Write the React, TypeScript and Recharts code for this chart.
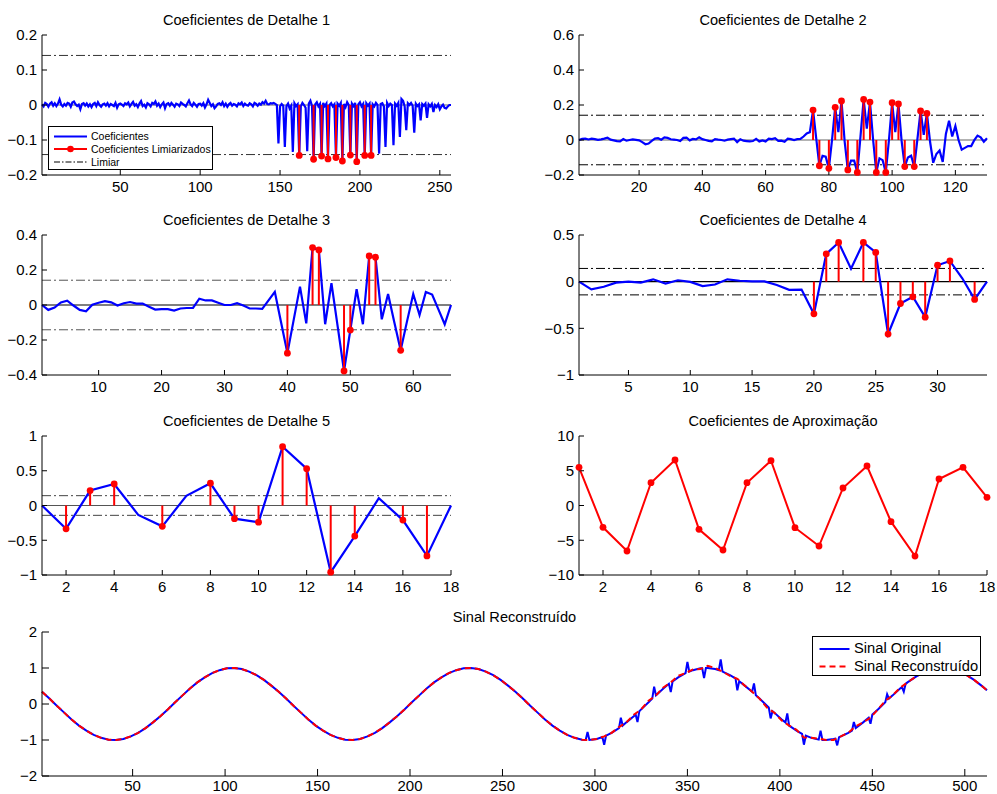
import React from "react";
import { ComposedChart, Line, XAxis, YAxis, ReferenceLine, Legend, ErrorBar } from "recharts";

const FONT = '"Liberation Sans", Arial, Helvetica, sans-serif';
const BLUE = "#0000ff";
const RED = "#ff0000";
const THRESHOLD = 0.1416;

// Detail level 1 (257 coefficients)
const detail1 = [
  0.002, -0.004, 0.006, 0.003, -0.005, 0.004, 0.008, -0.002, 0.005, -0.003,
  0.004, 0.016, 0.001, -0.004, 0.003, -0.002, 0.006, 0.004, -0.005, 0.007,
  0.01, 0.002, -0.003, 0.001, -0.012, 0.003, 0.005, -0.002, 0.004, -0.004,
  0.002, -0.006, 0.003, 0.006, -0.003, 0.008, 0, -0.005, 0.002, 0.004,
  -0.002, 0.005, -0.004, 0.003, 0, -0.003, 0.006, -0.008, 0.002, 0.004,
  0.001, -0.003, 0.005, 0.002, 0.007, -0.004, 0.003, 0.009, -0.002, 0.002,
  -0.006, 0.004, 0.011, -0.003, 0.001, -0.007, 0.005, 0.002, -0.004, 0.006,
  0.003, 0.01, -0.002, 0.004, -0.006, 0.002, 0.007, -0.009, 0.003, 0.005,
  -0.002, 0.006, 0.001, -0.005, 0.004, 0.002, -0.003, 0.007, 0.003, 0,
  -0.004, 0.005, 0.013, 0.002, -0.003, 0.006, 0.001, -0.005, 0.003, 0.004,
  -0.002, 0.005, -0.007, 0.002, 0.015, 0.006, -0.003, 0.002, -0.009, -0.004,
  0.003, 0.005, 0, 0.008, -0.003, 0.004, -0.005, 0.002, 0.006, -0.002,
  0.003, 0.001, -0.004, 0.005, 0.002, 0.007, -0.003, 0.004, 0, -0.002,
  0.005, 0.002, -0.004, 0.006, 0.003, -0.002, 0.004, 0.001, 0.008, 0.004,
  0.012, 0.003, 0.002, 0.005, 0.004, 0.006, 0.003, 0, -0.11, -0.004,
  0.003, -0.002, -0.12, -0.003, 0.004, -0.01, -0.002, -0.134, 0.005, -0.003,
  0.002, -0.144, -0.004, 0.006, 0, -0.008, -0.132, 0.004, 0.012, -0.003,
  -0.155, 0.002, 0.008, -0.004, 0.003, -0.146, 0.006, -0.003, 0.004, -0.154,
  0, 0.005, -0.004, 0.002, -0.15, 0.004, -0.002, 0.006, -0.16, 0.003,
  -0.006, 0.008, 0, -0.143, 0.004, -0.003, 0.006, -0.162, 0.002, 0.008,
  -0.004, 0.003, -0.144, 0.005, -0.002, 0.004, -0.144, 0.002, -0.004, 0.006,
  0, -0.139, 0.003, 0.005, -0.004, -0.12, 0.006, -0.003, 0.004, 0,
  -0.115, 0.004, -0.002, 0.006, -0.091, 0.017, 0.012, -0.004, -0.072, 0.005,
  0, 0.006, -0.002, -0.079, 0.004, -0.003, 0.002, -0.044, 0.003, -0.002,
  0.004, -0.037, 0.002, -0.004, 0.003, -0.02, 0, -0.006, 0.002, -0.012,
  -0.004, 0.001, -0.008, -0.01, -0.004, 0, 0,
];
const detail1Kept = [162, 171, 176, 180, 185, 189, 194, 198, 203, 207];

// Detail level 2 (130 coefficients)
const detail2 = [
  0, 0.006, 0.008, 0.003, 0.008, 0.005, 0.001, 0.004, 0.008, 0.013,
  0.002, -0.002, -0.006, -0.008, 0.005, -0.004, 0, 0.003, 0.001, -0.002,
  -0.012, -0.024, -0.02, -0.005, 0.008, 0.01, 0.002, 0.015, 0.012, 0.004,
  0.002, 0, -0.006, 0.012, 0.014, -0.002, 0.006, 0.004, 0.016, 0.005,
  0, -0.005, -0.008, 0.005, 0.002, 0, -0.004, 0.002, 0.005, 0.008,
  -0.012, 0.004, -0.004, -0.006, -0.008, -0.006, 0.006, -0.008, -0.002, -0.008,
  0.008, 0.005, 0.01, -0.005, -0.004, -0.01, 0.008, 0.005, 0, 0.005,
  0.006, 0.02, 0.038, 0.045, 0.171, 0.01, -0.147, -0.09, -0.095, -0.162,
  0, 0.187, 0.045, 0.223, -0.01, -0.171, -0.118, -0.118, -0.185, 0.02,
  0.232, 0.065, 0.217, 0, -0.185, -0.105, -0.115, -0.185, 0, 0.213,
  0.045, 0.206, -0.005, -0.152, -0.1, -0.09, -0.152, 0.005, 0.166, 0.03,
  0.152, -0.01, -0.13, -0.08, -0.06, -0.125, 0.035, 0.11, 0.02, 0.08,
  0, -0.055, -0.045, -0.035, -0.035, 0, 0.025, 0.015, -0.01, 0.01,
];
const detail2Kept = [75, 77, 80, 82, 84, 86, 89, 91, 93, 95, 98, 100, 102, 104, 107, 109, 111];

// Detail level 3 (66 coefficients)
const detail3 = [
  0, -0.028, -0.015, 0.015, 0.025, -0.003, -0.028, -0.036, 0.002, 0.013,
  0.022, 0.015, -0.003, 0.01, 0.017, 0.008, 0.008, -0.01, -0.026, -0.024,
  -0.024, -0.032, -0.02, -0.017, -0.017, 0.036, 0.026, 0.026, 0.013, 0,
  0, 0.01, -0.003, -0.02, -0.02, -0.022, 0.026, 0.075, -0.1, -0.275,
  -0.085, 0.105, -0.105, 0.328, 0.315, -0.11, 0.125, -0.125, -0.377, -0.143,
  0.09, -0.11, 0.28, 0.273, -0.082, 0.063, -0.1, -0.259, -0.095, 0.063,
  -0.057, 0.075, 0.06, -0.025, -0.11, 0,
];
const detail3Kept = [40, 44, 45, 49, 50, 53, 54, 58];

// Detail level 4 (34 coefficients)
const detail4 = [
  0, -0.083, -0.054, -0.01, 0, -0.01, 0.025, -0.02, 0.015, -0.003,
  -0.047, -0.03, 0.025, 0.01, 0.003, 0.003, -0.035, -0.087, -0.085, -0.345,
  0.298, 0.42, 0.138, 0.42, 0.313, -0.561, -0.234, -0.162, -0.38, 0.176,
  0.222, 0.036, -0.19, 0,
];
const detail4Kept = [20, 21, 22, 24, 25, 26, 27, 28, 29, 30, 31, 33];

// Detail level 5 and approximation (18 coefficients each)
const detail5 = [0, -0.335, 0.215, 0.31, -0.135, -0.3, 0.14, 0.32, -0.19, -0.24, 0.845, 0.53, -0.96, -0.44, 0.105, -0.21, -0.725, 0];
const detail5Kept = [2, 3, 4, 6, 8, 9, 10, 11, 12, 13, 14, 16, 17];
const approx5 = [5.5, -3.14, -6.55, 3.28, 6.55, -3.43, -6.4, 3.28, 6.45, -3.19, -5.83, 2.52, 5.68, -2.33, -7.27, 3.81, 5.5, 1.18];

// Signal, read every 4th sample (x = 1, 5, 9, ... 509, then 512)
const signalBase = [
  0.34, 0.15, -0.05, -0.24, -0.43, -0.6, -0.74, -0.86, -0.94, -0.99, -1, -0.97, -0.9, -0.8, -0.67, -0.51,
  -0.34, -0.15, 0.05, 0.24, 0.43, 0.6, 0.74, 0.86, 0.94, 0.99, 1, 0.97, 0.9, 0.8, 0.67, 0.51,
  0.34, 0.15, -0.05, -0.24, -0.43, -0.6, -0.74, -0.86, -0.94, -0.99, -1, -0.97, -0.9, -0.8, -0.67, -0.51,
  -0.34, -0.15, 0.05, 0.24, 0.43, 0.6, 0.74, 0.86, 0.94, 0.99, 1, 0.97, 0.9, 0.8, 0.67, 0.51,
  0.34, 0.15, -0.05, -0.24, -0.43, -0.6, -0.74, -0.86, -0.94, -0.99, -1, -0.97, -0.9, -0.8, -0.67, -0.51,
  -0.34, -0.15, 0.05, 0.24, 0.43, 0.6, 0.74, 0.86, 0.94, 0.99, 1, 0.97, 0.9, 0.8, 0.67, 0.51,
  0.34, 0.15, -0.05, -0.24, -0.43, -0.6, -0.74, -0.86, -0.94, -0.99, -1, -0.97, -0.9, -0.8, -0.67, -0.51,
  -0.34, -0.15, 0.05, 0.24, 0.43, 0.6, 0.74, 0.86, 0.94, 0.99, 1, 0.97, 0.9, 0.8, 0.67, 0.51,
  0.38,
];

// noise spikes of the original signal: [sample, value]
const originalSpikes: [number, number][] = [
  [295, -1], [296, -0.78], [297, -1],
  [304, -0.92], [305, -1.13], [306, -0.88],
  [313, -0.67], [314, -0.38], [315, -0.6],
  [322, -0.29], [323, -0.5], [324, -0.2],
  [331, 0.15], [332, 0.48], [333, 0.24],
  [340, 0.56], [341, 0.33], [342, 0.63],
  [349, 0.86], [350, 1.17], [351, 0.9],
  [358, 0.99], [359, 0.72], [360, 1],
  [367, 0.94], [368, 1.24], [369, 0.9],
  [376, 0.71], [377, 0.38], [378, 0.63],
  [385, 0.34], [386, 0.57], [387, 0.24],
  [394, -0.1], [395, -0.4], [396, -0.2],
  [403, -0.51], [404, -0.26], [405, -0.6],
  [412, -0.83], [413, -1.13], [414, -0.88],
  [421, -0.99], [422, -0.74], [423, -1],
  [430, -0.96], [431, -1.15], [432, -0.92],
  [439, -0.74], [440, -0.5], [441, -0.67],
  [448, -0.38], [449, -0.55], [450, -0.29],
  [457, 0.05], [458, 0.27], [459, 0.15],
  [466, 0.47], [467, 0.34], [468, 0.56],
  [475, 0.8], [476, 0.98], [477, 0.86],
];

const reconstructed = [
  0.34, 0.15, -0.05, -0.24, -0.43, -0.6, -0.74, -0.86, -0.94, -0.99, -1, -0.97, -0.9, -0.8, -0.67, -0.51,
  -0.34, -0.15, 0.05, 0.24, 0.43, 0.6, 0.74, 0.86, 0.94, 0.99, 1, 0.97, 0.9, 0.8, 0.67, 0.51,
  0.34, 0.15, -0.05, -0.24, -0.43, -0.6, -0.74, -0.86, -0.94, -0.99, -1, -0.97, -0.9, -0.8, -0.67, -0.51,
  -0.34, -0.15, 0.05, 0.24, 0.43, 0.6, 0.74, 0.86, 0.94, 0.99, 1, 0.97, 0.9, 0.8, 0.67, 0.51,
  0.34, 0.15, -0.05, -0.24, -0.43, -0.6, -0.74, -0.86, -0.94, -0.99, -1, -0.97, -0.9, -0.8, -0.64, -0.51,
  -0.3, -0.15, 0.09, 0.24, 0.46, 0.6, 0.78, 0.86, 0.96, 0.97, 1.06, 1, 0.9, 0.78, 0.7, 0.51,
  0.34, 0.15, -0.1, -0.24, -0.46, -0.6, -0.72, -0.93, -0.94, -0.96, -1, -1, -0.9, -0.8, -0.62, -0.51,
  -0.38, -0.15, 0.09, 0.24, 0.45, 0.6, 0.74, 0.86, 0.94, 0.99, 1, 0.97, 0.9, 0.8, 0.67, 0.51,
  0.38,
];

const legend1Labels = ["Coeficientes", "Coeficientes Limiarizados", "Limiar"];
const legend7Labels = ["Sinal Original", "Sinal Reconstruído"];

type Spec = {
  title: string;
  left: number;
  top: number;
  width: number;
  height: number;
  xMax: number;
  xTicks: number[];
  yDomain: [number, number];
  yTicks: number[];
  tick: number;
  gap: number;
  right: number;
};

const specs: Spec[] = [
  { title: "Coeficientes de Detalhe 1", left: 42, top: 35, width: 409, height: 140, xMax: 257, xTicks: [50, 100, 150, 200, 250], yDomain: [-0.2, 0.2], yTicks: [-0.2, -0.1, 0, 0.1, 0.2], tick: 5, gap: 6, right: 16 },
  { title: "Coeficientes de Detalhe 2", left: 579, top: 35, width: 408, height: 140, xMax: 130, xTicks: [20, 40, 60, 80, 100, 120], yDomain: [-0.2, 0.6], yTicks: [-0.2, 0, 0.2, 0.4, 0.6], tick: 5, gap: 6, right: 9 },
  { title: "Coeficientes de Detalhe 3", left: 42, top: 235, width: 409, height: 140, xMax: 66, xTicks: [10, 20, 30, 40, 50, 60], yDomain: [-0.4, 0.4], yTicks: [-0.4, -0.2, 0, 0.2, 0.4], tick: 5, gap: 6, right: 16 },
  { title: "Coeficientes de Detalhe 4", left: 579, top: 235, width: 408, height: 140, xMax: 34, xTicks: [5, 10, 15, 20, 25, 30], yDomain: [-1, 0.5], yTicks: [-1, -0.5, 0, 0.5], tick: 5, gap: 6, right: 9 },
  { title: "Coeficientes de Detalhe 5", left: 42, top: 436, width: 409, height: 139, xMax: 18, xTicks: [2, 4, 6, 8, 10, 12, 14, 16, 18], yDomain: [-1, 1], yTicks: [-1, -0.5, 0, 0.5, 1], tick: 5, gap: 6, right: 16 },
  { title: "Coeficientes de Aproximação", left: 579, top: 436, width: 408, height: 139, xMax: 18, xTicks: [2, 4, 6, 8, 10, 12, 14, 16, 18], yDomain: [-10, 10], yTicks: [-10, -5, 0, 5, 10], tick: 5, gap: 6, right: 9 },
  { title: "Sinal Reconstruído", left: 42, top: 632, width: 945, height: 144, xMax: 512, xTicks: [50, 100, 150, 200, 250, 300, 350, 400, 450, 500], yDomain: [-2, 2], yTicks: [-2, -1, 0, 1, 2], tick: 7, gap: 4, right: 9 },
];

const AXIS_W = 42;
const PAD_TOP = 12;
const AXIS_H = 30;

const fmt = (v: number) => String(v).replace("-", "\u2212");

// stems are drawn as one-sided error bars from the coefficient back to zero
const stemRows = (vals: number[], kept: number[]) =>
  vals.map((v, i) => {
    const k = kept.includes(i + 1);
    return { x: i + 1, coef: v, kept: k ? v : null, stem: k ? (v > 0 ? [v, 0] : [0, -v]) : null };
  });

const baseX = signalBase.map((_, i) => Math.min(1 + 4 * i, 512));
const spikeX = new Set(originalSpikes.map((p) => p[0]));
const originalRows = [
  ...baseX.map((x, i) => ({ x, y: signalBase[i] })).filter((r) => !spikeX.has(r.x)),
  ...originalSpikes.map(([x, y]) => ({ x, y })),
].sort((a, b) => a.x - b.x);
const reconRows = baseX.map((x, i) => ({ x, y: reconstructed[i] }));

function axes(s: Spec) {
  const tickStyle = { fill: "#000", fontSize: 15, fontFamily: FONT };
  return [
    <XAxis key="xb" xAxisId="b" type="number" dataKey="x" domain={[1, s.xMax]} ticks={s.xTicks} interval={0}
      height={AXIS_H} stroke="#000" tickSize={-s.tick} tickMargin={s.tick + s.gap} tick={tickStyle} />,
    <XAxis key="xt" xAxisId="t" orientation="top" type="number" dataKey="x" domain={[1, s.xMax]} ticks={s.xTicks}
      interval={0} height={0} stroke="#000" tickSize={-s.tick} tick={false} />,
    <YAxis key="yl" yAxisId="l" type="number" domain={s.yDomain} ticks={s.yTicks} interval={0} width={AXIS_W}
      stroke="#000" tickSize={-s.tick} tickMargin={s.tick + 5} tick={tickStyle} tickFormatter={fmt} />,
    <YAxis key="yr" yAxisId="r" orientation="right" type="number" domain={s.yDomain} ticks={s.yTicks} interval={0}
      width={0} stroke="#000" tickSize={-s.tick} tick={false} />,
  ];
}

function stems(zeroColor: string, limColor: string) {
  return [
    <ReferenceLine key="z" xAxisId="b" yAxisId="l" y={0} stroke={zeroColor} strokeWidth={1.2} />,
    <ReferenceLine key="tp" xAxisId="b" yAxisId="l" y={THRESHOLD} stroke={limColor} strokeDasharray="9 3 2 3" />,
    <ReferenceLine key="tn" xAxisId="b" yAxisId="l" y={-THRESHOLD} stroke={limColor} strokeDasharray="9 3 2 3" />,
    <Line key="c" xAxisId="b" yAxisId="l" type="linear" dataKey="coef" stroke={BLUE} strokeWidth={2.2}
      dot={false} activeDot={false} isAnimationActive={false} />,
    <Line key="d" xAxisId="b" yAxisId="l" type="linear" dataKey="kept" stroke="none"
      dot={{ r: 3.4, fill: RED, stroke: RED, strokeWidth: 0 }} activeDot={false} isAnimationActive={false}>
      <ErrorBar dataKey="stem" direction="y" width={0} stroke={RED} strokeWidth={2} />
    </Line>,
  ];
}

function LegendBox({ width, height, fontSize, rows, lineX1, lineX2, textX }: {
  width: number; height: number; fontSize: number; lineX1: number; lineX2: number; textX: number;
  rows: { label: string; y: number; color: string; dash?: string; lw: number; marker?: boolean }[];
}) {
  return (
    <div style={{ position: "relative", width, height, background: "#fff", border: "1.3px solid #000",
      boxSizing: "border-box", fontFamily: FONT, fontSize }}>
      <svg width={width} height={height} style={{ position: "absolute", left: 0, top: 0 }}>
        {rows.map((r) => (
          <g key={r.label}>
            <line x1={lineX1} x2={lineX2} y1={r.y} y2={r.y} stroke={r.color} strokeWidth={r.lw} strokeDasharray={r.dash} />
            {r.marker && <circle cx={(lineX1 + lineX2) / 2} cy={r.y} r={3.3} fill={r.color} />}
          </g>
        ))}
      </svg>
      {rows.map((r) => (
        <div key={r.label} style={{ position: "absolute", left: textX, top: r.y - fontSize * 0.6, lineHeight: `${fontSize * 1.2}px`, whiteSpace: "nowrap", color: "#000" }}>
          {r.label}
        </div>
      ))}
    </div>
  );
}

function Panel({ s, data, children }: { s: Spec; data?: any[]; children: React.ReactNode }) {
  return (
    <>
      <div style={{ position: "absolute", left: s.left, top: s.top - 24.5, width: s.width, textAlign: "center",
        fontSize: 14.6, lineHeight: "18px", fontFamily: FONT, color: "#000" }}>
        {s.title}
      </div>
      <div style={{ position: "absolute", left: s.left - AXIS_W, top: s.top - PAD_TOP }}>
        <ComposedChart width={AXIS_W + s.width + s.right} height={PAD_TOP + s.height + AXIS_H} data={data}
          margin={{ top: PAD_TOP, right: s.right, bottom: 0, left: 0 }}>
          {axes(s)}
          {children}
        </ComposedChart>
      </div>
    </>
  );
}

export default function App() {
  return (
    <div style={{ position: "absolute", left: 0, top: 0, width: 997, height: 794, overflow: "hidden", background: "#fff" }}>
      <Panel s={specs[0]} data={stemRows(detail1, detail1Kept)}>
        {stems("#666", "#333")}
        <Legend layout="vertical" verticalAlign="middle" align="center"
          wrapperStyle={{ left: 48, top: 126 - (35 - PAD_TOP), width: 165, height: 44 }}
          content={() => (
            <LegendBox width={165} height={44} fontSize={10.5} lineX1={5} lineX2={38} textX={42}
              rows={[
                { label: legend1Labels[0], y: 9.5, color: BLUE, lw: 2 },
                { label: legend1Labels[1], y: 22, color: RED, lw: 2, marker: true },
                { label: legend1Labels[2], y: 35, color: "#000", lw: 1, dash: "6 2 1.5 2" },
              ]} />
          )} />
      </Panel>
      <Panel s={specs[1]} data={stemRows(detail2, detail2Kept)}>
        {stems("#666", "#000")}
      </Panel>
      <Panel s={specs[2]} data={stemRows(detail3, detail3Kept)}>
        {stems("#000", "#555")}
      </Panel>
      <Panel s={specs[3]} data={stemRows(detail4, detail4Kept)}>
        {stems("#000", "#000")}
      </Panel>
      <Panel s={specs[4]} data={stemRows(detail5, detail5Kept)}>
        {stems("#555", "#444")}
      </Panel>
      <Panel s={specs[5]} data={approx5.map((v, i) => ({ x: i + 1, a: v }))}>
        <Line xAxisId="b" yAxisId="l" type="linear" dataKey="a" stroke={RED} strokeWidth={2}
          dot={{ r: 3.4, fill: RED, stroke: RED, strokeWidth: 0 }} activeDot={false} isAnimationActive={false} />
      </Panel>
      <Panel s={specs[6]}>
        <Line xAxisId="b" yAxisId="l" type="linear" data={originalRows} dataKey="y" stroke={BLUE} strokeWidth={2}
          dot={false} activeDot={false} isAnimationActive={false} />
        <Line xAxisId="b" yAxisId="l" type="linear" data={reconRows} dataKey="y" stroke={RED} strokeWidth={2}
          strokeDasharray="6 4" dot={false} activeDot={false} isAnimationActive={false} />
        <Legend layout="vertical" verticalAlign="middle" align="center"
          wrapperStyle={{ left: 812, top: 636 - (632 - PAD_TOP), width: 169, height: 40 }}
          content={() => (
            <LegendBox width={169} height={40} fontSize={14.7} lineX1={6.5} lineX2={36.5} textX={41}
              rows={[
                { label: legend7Labels[0], y: 12, color: BLUE, lw: 2 },
                { label: legend7Labels[1], y: 29.5, color: RED, lw: 2, dash: "6 4" },
              ]} />
          )} />
      </Panel>
    </div>
  );
}
